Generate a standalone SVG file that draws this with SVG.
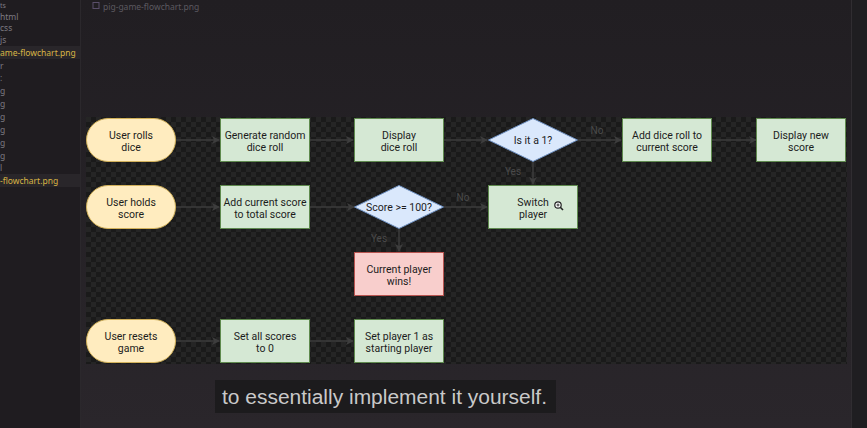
<svg xmlns="http://www.w3.org/2000/svg" width="867" height="428" viewBox="0 0 867 428">
<defs>
<linearGradient id="bg" x1="0" y1="0" x2="0" y2="1">
<stop offset="0" stop-color="#211e22"/>
<stop offset="1" stop-color="#2a262b"/>
</linearGradient>
<pattern id="chk" width="10" height="10" patternUnits="userSpaceOnUse" x="86" y="117">
<rect width="10" height="10" fill="#1a1a1a"/>
<rect width="5" height="5" fill="#252525"/>
<rect x="5" y="5" width="5" height="5" fill="#252525"/>
</pattern>
<marker id="arr" markerWidth="8" markerHeight="8" refX="7" refY="4" orient="auto" markerUnits="userSpaceOnUse">
<path d="M0,0 L8,4 L0,8 L2,4 Z" fill="#3d3d3d"/>
</marker>
<style>
.side{font-family:"Noto Sans","Liberation Sans",sans-serif;font-size:8.5px;fill:#7d7a80}
.sel{fill:#d8b545}
.t{font-family:Roboto,"Liberation Sans",sans-serif;font-size:10.5px;fill:#1c1c1c;text-anchor:middle}
.lbl{font-family:Roboto,"Liberation Sans",sans-serif;font-size:10px;fill:#4a4a4a;text-anchor:middle}
.pill{fill:#ffecbf;stroke:#d2b15a;stroke-width:1}
.proc{fill:#d5e8d4;stroke:#5f8a4e;stroke-width:1}
.dec{fill:#dae8fc;stroke:#6c8ebf;stroke-width:1}
.end{fill:#f8cecc;stroke:#b85450;stroke-width:1}
.c{stroke:#3d3d3d;stroke-width:1.5;fill:none;marker-end:url(#arr)}
</style>
</defs>
<rect width="867" height="428" fill="url(#bg)"/>
<rect x="0" y="0" width="80" height="428" fill="#1f1c20"/>
<line x1="80.5" y1="0" x2="80.5" y2="428" stroke="#2b282c"/>
<rect x="851" y="0" width="16" height="428" fill="#1f1e21"/>
<line x1="851.5" y1="0" x2="851.5" y2="428" stroke="#302d31"/>
<g id="sidebar">
<text class="side" x="0" y="8" style="font-size:7px">ts</text>
<text class="side" x="0" y="19.5">html</text>
<text class="side" x="0" y="31">css</text>
<text class="side" x="0" y="43">js</text>
<rect x="0" y="46" width="80" height="13" fill="#29262a"/>
<text class="side sel" x="0" y="56">ame-flowchart.png</text>
<text class="side" x="0" y="69">r</text>
<text class="side" x="0" y="81">:</text>
<text class="side" x="0" y="94">g</text>
<text class="side" x="0" y="107">g</text>
<text class="side" x="0" y="120">g</text>
<text class="side" x="0" y="133">g</text>
<text class="side" x="0" y="146">g</text>
<text class="side" x="0" y="159">g</text>
<text class="side" x="0" y="171">l</text>
<rect x="0" y="174" width="80" height="13" fill="#29262a"/>
<text class="side sel" x="0" y="184">-flowchart.png</text>
</g>
<g id="tab">
<rect x="93" y="2.5" width="6" height="6" fill="none" stroke="#5a4f6a"/>
<text class="side" x="103" y="10" style="fill:#5c5960">pig-game-flowchart.png</text>
</g>
<rect x="86" y="117" width="761" height="247" fill="url(#chk)"/>
<g id="connectors">
<line class="c" x1="176" y1="140" x2="219" y2="140"/>
<line class="c" x1="310" y1="140" x2="353" y2="140"/>
<line class="c" x1="444" y1="140" x2="487" y2="140"/>
<line class="c" x1="578" y1="140" x2="621" y2="140"/>
<line class="c" x1="712" y1="140" x2="756" y2="140"/>
<line class="c" x1="533" y1="162" x2="533" y2="184"/>
<line class="c" x1="176" y1="207" x2="219" y2="207"/>
<line class="c" x1="310" y1="207" x2="354" y2="207"/>
<line class="c" x1="444" y1="207" x2="487" y2="207"/>
<line class="c" x1="399" y1="229" x2="399" y2="251"/>
<line class="c" x1="176" y1="341" x2="219" y2="341"/>
<line class="c" x1="310" y1="341" x2="353" y2="341"/>
<text class="lbl" x="597" y="134">No</text>
<text class="lbl" x="513" y="175">Yes</text>
<text class="lbl" x="463" y="201">No</text>
<text class="lbl" x="379" y="242">Yes</text>
</g>
<g id="n1"><rect class="pill" x="86.5" y="118.5" width="89" height="43" rx="21.5"/><text class="t" x="131" y="139">User rolls</text><text class="t" x="131" y="151">dice</text></g>
<g id="n2"><rect class="proc" x="220.5" y="118.5" width="89" height="43"/><text class="t" x="265" y="139">Generate random</text><text class="t" x="265" y="151">dice roll</text></g>
<g id="n3"><rect class="proc" x="354.5" y="118.5" width="89" height="43"/><text class="t" x="399" y="139">Display</text><text class="t" x="399" y="151">dice roll</text></g>
<g id="n4"><polygon class="dec" points="533,118.5 577.5,140 533,161.5 488.5,140"/><text class="t" x="533" y="144">Is it a 1?</text></g>
<g id="n5"><rect class="proc" x="622.5" y="118.5" width="89" height="43"/><text class="t" x="667" y="139">Add dice roll to</text><text class="t" x="667" y="151">current score</text></g>
<g id="n6"><rect class="proc" x="756.5" y="118.5" width="89" height="43"/><text class="t" x="801" y="139">Display new</text><text class="t" x="801" y="151">score</text></g>
<g id="n7"><rect class="pill" x="86.5" y="185.5" width="89" height="43" rx="21.5"/><text class="t" x="131" y="206">User holds</text><text class="t" x="131" y="218">score</text></g>
<g id="n8"><rect class="proc" x="220.5" y="185.5" width="89" height="43"/><text class="t" x="265" y="206">Add current score</text><text class="t" x="265" y="218">to total score</text></g>
<g id="n9"><polygon class="dec" points="399,185.5 443.5,207 399,228.5 354.5,207"/><text class="t" x="399" y="211">Score &gt;= 100?</text></g>
<g id="n10"><rect class="proc" x="488.5" y="185.5" width="89" height="43"/><text class="t" x="533" y="206">Switch</text><text class="t" x="533" y="218">player</text></g>
<g id="cursor"><circle cx="558" cy="205" r="3.2" fill="#fff" stroke="#222" stroke-width="1.2"/><line x1="556.5" y1="205" x2="559.5" y2="205" stroke="#222" stroke-width="0.9"/><line x1="558" y1="203.5" x2="558" y2="206.5" stroke="#222" stroke-width="0.9"/><line x1="560.3" y1="207.3" x2="563" y2="210" stroke="#222" stroke-width="1.6"/></g>
<g id="n11"><rect class="end" x="354.5" y="252.5" width="89" height="43"/><text class="t" x="399" y="273">Current player</text><text class="t" x="399" y="285">wins!</text></g>
<g id="n12"><rect class="pill" x="86.5" y="319.5" width="89" height="43" rx="21.5"/><text class="t" x="131" y="340">User resets</text><text class="t" x="131" y="352">game</text></g>
<g id="n13"><rect class="proc" x="220.5" y="319.5" width="89" height="43"/><text class="t" x="265" y="340">Set all scores</text><text class="t" x="265" y="352">to 0</text></g>
<g id="n14"><rect class="proc" x="354.5" y="319.5" width="89" height="43"/><text class="t" x="399" y="340">Set player 1 as</text><text class="t" x="399" y="352">starting player</text></g>
<g id="caption">
<rect x="215" y="380" width="341" height="33" fill="#1c1b1d"/>
<text x="222" y="404" font-family="'Liberation Sans',Arial,sans-serif" font-size="20" textLength="325" lengthAdjust="spacingAndGlyphs" fill="#c9c9c9">to essentially implement it yourself.</text>
</g>
</svg>
